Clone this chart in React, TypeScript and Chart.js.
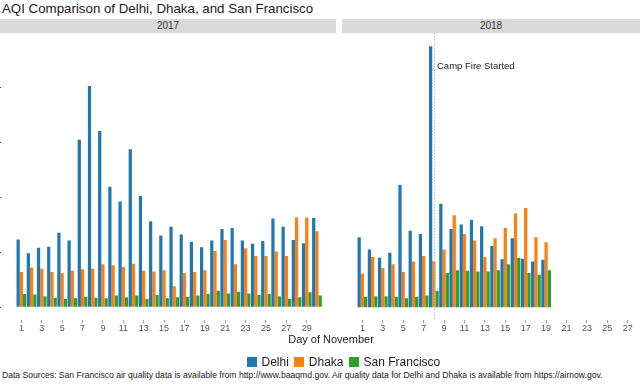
import React, { useEffect, useRef } from 'react';
import { Chart, registerables } from 'chart.js';

Chart.register(...registerables);

const FONT = '"Liberation Sans", Arial, Helvetica, sans-serif';

const TITLE = 'AQI Comparison of Delhi, Dhaka, and San Francisco';
const X_TITLE = 'Day of November';
const FOOTNOTE =
  'Data Sources: San Francisco air quality data is available from http://www.baaqmd.gov. Air quality data for Delhi and Dhaka is available from https://airnow.gov.';

const SERIES_NAMES = ['Delhi', 'Dhaka', 'San Francisco'];
const SERIES_COLORS = ['#1f77b4', '#ff7f0e', '#2ca02c'];

const PANEL_LABELS = ['2017', '2018'];

const DAYS_2017 = [1, 2, 3, 4, 5, 6, 7, 8, 9, 10, 11, 12, 13, 14, 15, 16, 17, 18, 19, 20, 21, 22, 23, 24, 25, 26, 27, 28, 29, 30];
const DELHI_2017 = [123, 98, 108, 110, 135, 121, 304, 402, 320, 219, 192, 287, 202, 156, 130, 146, 132, 119, 109, 121, 142, 144, 121, 115, 120, 161, 146, 122, 116, 162];
const DHAKA_2017 = [64, 72, 70, 64, 62, 66, 69, 70, 78, 76, 73, 79, 66, 65, 67, 38, 62, 64, 67, 102, 122, 78, 107, 93, 93, 101, 93, 163, 163, 138];
const SF_2017 = [24, 23, 20, 17, 15, 16, 19, 17, 16, 21, 18, 21, 15, 22, 16, 18, 19, 21, 24, 30, 25, 28, 25, 22, 24, 20, 15, 18, 27, 21];

const DAYS_2018 = [1, 2, 3, 4, 5, 6, 7, 8, 9, 10, 11, 12, 13, 14, 15, 16, 17, 18, 19];
const DELHI_2018 = [127, 105, 90, 99, 222, 139, 133, 474, 188, 142, 150, 159, 147, 111, 87, 125, 88, 83, 86];
const DHAKA_2018 = [61, 91, 71, 78, 64, 83, 93, 84, 105, 167, 133, 121, 91, 125, 144, 170, 180, 127, 118];
const SF_2018 = [19, 20, 20, 19, 16, 19, 21, 30, 62, 67, 66, 65, 65, 67, 78, 90, 62, 59, 67];

const X_TICKS = [1, 3, 5, 7, 9, 11, 13, 15, 17, 19, 21, 23, 25, 27, 29];
const Y_TICKS = [0, 100, 200, 300, 400];
const Y_MIN = -23.7;
const Y_MAX = 498.2;
const X_MIN = -1;
const X_MAX_2017 = 31.87;
const X_MAX_2018 = 28.1;

const CAMP_FIRE_DAY = 8;
const CAMP_FIRE_LABEL = 'Camp Fire Started';
const CAMP_FIRE_LABEL_Y = 438;

function makeDatasets(days: number[], series: number[][]) {
  return series.map((vals, s) => ({
    label: SERIES_NAMES[s],
    data: days.map((d, i) => ({ x: d, y: vals[i] })),
    backgroundColor: SERIES_COLORS[s],
    borderWidth: 0,
    categoryPercentage: 0.95,
    barPercentage: 1.0,
  }));
}

function makeConfig(days: number[], series: number[][], xMax: number, showY: boolean, plugins: any[]) {
  return {
    type: 'bar' as const,
    data: { datasets: makeDatasets(days, series) },
    plugins,
    options: {
      animation: false as const,
      responsive: false,
      maintainAspectRatio: false,
      layout: { padding: 0 },
      plugins: {
        legend: { display: false },
        tooltip: { enabled: false },
        title: { display: false },
      },
      scales: {
        x: {
          type: 'linear' as const,
          min: X_MIN,
          max: xMax,
          offset: false,
          grid: {
            display: true,
            offset: false,
            drawOnChartArea: false,
            drawTicks: true,
            tickLength: 3,
            color: '#a0a0a0',
          },
          border: { display: false },
          ticks: {
            font: { size: 9, family: FONT, lineHeight: 1.2 },
            color: '#555',
            padding: 0,
            autoSkip: false,
            maxRotation: 0,
            minRotation: 0,
          },
          afterBuildTicks: (scale: any) => {
            scale.ticks = X_TICKS.filter((v) => v >= X_MIN && v <= xMax).map((v) => ({ value: v }));
          },
        },
        y: {
          type: 'linear' as const,
          min: Y_MIN,
          max: Y_MAX,
          display: showY,
          ticks: { display: false },
          grid: {
            drawOnChartArea: false,
            drawTicks: true,
            tickLength: 3,
            color: '#444',
          },
          border: { display: false },
          afterBuildTicks: (scale: any) => {
            scale.ticks = Y_TICKS.map((v) => ({ value: v }));
          },
        },
      },
    },
  };
}

const campFirePlugin = {
  id: 'campFire',
  afterDatasetsDraw(chart: any) {
    const { ctx, chartArea, scales } = chart;
    const px = Math.round(scales.x.getPixelForValue(CAMP_FIRE_DAY)) + 0.5;
    ctx.save();
    ctx.strokeStyle = '#b4bcc6';
    ctx.lineWidth = 1;
    ctx.setLineDash([1.5, 1.5]);
    ctx.beginPath();
    ctx.moveTo(px, chartArea.top);
    ctx.lineTo(px, chartArea.bottom);
    ctx.stroke();
    ctx.setLineDash([]);
    ctx.fillStyle = '#1a1a1a';
    ctx.font = '9.5px ' + FONT;
    ctx.textAlign = 'left';
    ctx.textBaseline = 'middle';
    ctx.fillText(CAMP_FIRE_LABEL, px + 2.5, scales.y.getPixelForValue(CAMP_FIRE_LABEL_Y));
    ctx.restore();
  },
};

export default function App() {
  const ref1 = useRef<HTMLCanvasElement>(null);
  const ref2 = useRef<HTMLCanvasElement>(null);

  useEffect(() => {
    const c1 = new Chart(
      ref1.current as HTMLCanvasElement,
      makeConfig(DAYS_2017, [DELHI_2017, DHAKA_2017, SF_2017], X_MAX_2017, true, []) as any
    );
    const c2 = new Chart(
      ref2.current as HTMLCanvasElement,
      makeConfig(DAYS_2018, [DELHI_2018, DHAKA_2018, SF_2018], X_MAX_2018, false, [campFirePlugin]) as any
    );
    return () => {
      c1.destroy();
      c2.destroy();
    };
  }, []);

  const strip = (left: number, width: number, label: string) => (
    <div
      style={{
        position: 'absolute',
        left,
        top: 19,
        width,
        height: 14,
        background: '#d9d9d9',
        color: '#333',
        fontSize: 10,
        lineHeight: '14px',
        textAlign: 'center',
      }}
    >
      {label}
    </div>
  );

  return (
    <div
      style={{
        position: 'absolute',
        left: 0,
        top: 0,
        width: 640,
        height: 384,
        overflow: 'hidden',
        background: '#fff',
        fontFamily: FONT,
        color: '#1a1a1a',
      }}
    >
      <div style={{ position: 'absolute', left: 2, top: 1, fontSize: 13.3, lineHeight: '16px', whiteSpace: 'nowrap' }}>
        {TITLE}
      </div>
      {strip(0, 336, PANEL_LABELS[0])}
      {strip(342, 298, PANEL_LABELS[1])}
      <canvas
        ref={ref1}
        width={338}
        height={301}
        style={{ position: 'absolute', left: -2, top: 33, width: 338, height: 301 }}
      />
      <canvas
        ref={ref2}
        width={297}
        height={301}
        style={{ position: 'absolute', left: 342, top: 33, width: 297, height: 301 }}
      />
      <div
        style={{
          position: 'absolute',
          left: 331,
          top: 333,
          transform: 'translateX(-50%)',
          fontSize: 11,
          lineHeight: '13px',
          whiteSpace: 'nowrap',
        }}
      >
        {X_TITLE}
      </div>
      <div
        style={{
          position: 'absolute',
          left: 246.5,
          top: 355,
          height: 14,
          display: 'flex',
          alignItems: 'center',
          fontSize: 12,
          whiteSpace: 'nowrap',
        }}
      >
        {SERIES_NAMES.map((name, i) => (
          <React.Fragment key={name}>
            <span style={{ display: 'inline-block', width: 10, height: 10, background: SERIES_COLORS[i], marginRight: 5 }} />
            <span style={{ marginRight: 5 }}>{name}</span>
          </React.Fragment>
        ))}
      </div>
      <div
        style={{
          position: 'absolute',
          left: 2,
          top: 370,
          fontSize: 8.6,
          lineHeight: '10px',
          whiteSpace: 'nowrap',
        }}
      >
        {FOOTNOTE}
      </div>
    </div>
  );
}
